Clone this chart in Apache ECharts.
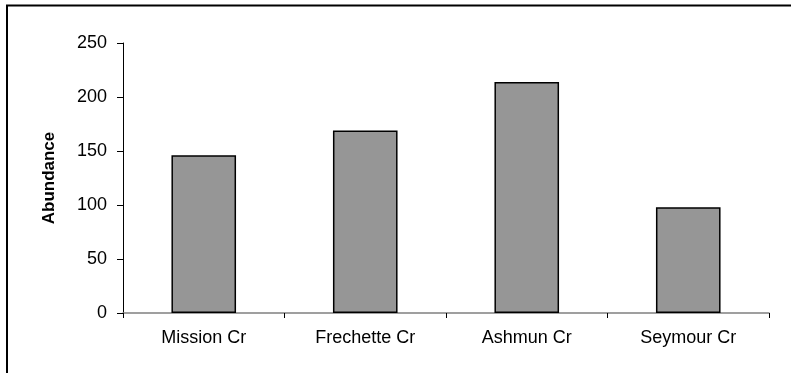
<!DOCTYPE html>
<html>
<head>
<meta charset="utf-8">
<script src="https://cdn.jsdelivr.net/npm/echarts@6/dist/echarts.min.js"></script>
<style>
html,body{margin:0;padding:0;background:#fff;}
#chart{width:791px;height:373px;}
</style>
</head>
<body>
<div id="chart"></div>
<script>
const categories = ['Mission Cr', 'Frechette Cr', 'Ashmun Cr', 'Seymour Cr'];
const abundance = [146, 169, 214, 98];
const yTicks = { min: 0, max: 250, interval: 50 };
const yTitle = 'Abundance';

const chart = echarts.init(document.getElementById('chart'), null, { renderer: 'canvas' });
const font = '"Liberation Sans", Arial, sans-serif';
chart.setOption({
  animation: false,
  backgroundColor: '#fff',
  graphic: [{
    type: 'rect',
    shape: { x: 7, y: 5.5, width: 900, height: 500 },
    style: { fill: 'none', stroke: '#000', lineWidth: 2 },
    silent: true
  }],
  grid: { left: 123, top: 43, width: 646, height: 270, containLabel: false },
  xAxis: {
    type: 'category',
    data: categories,
    axisLine: { lineStyle: { color: '#808080', width: 1.5 } },
    axisTick: { show: true, length: 5, lineStyle: { color: '#000', width: 1 } },
    axisLabel: { color: '#000', fontFamily: font, fontSize: 18, margin: 16 },
    splitLine: { show: false }
  },
  yAxis: {
    type: 'value',
    min: yTicks.min, max: yTicks.max, interval: yTicks.interval,
    name: yTitle,
    nameLocation: 'middle',
    nameGap: 65,
    nameTextStyle: { color: '#000', fontFamily: font, fontSize: 17, fontWeight: 'bold' },
    axisLine: { show: true, lineStyle: { color: '#000', width: 1 } },
    axisTick: { show: true, length: 6, lineStyle: { color: '#000', width: 1 } },
    axisLabel: { color: '#000', fontFamily: font, fontSize: 18, margin: 16 },
    splitLine: { show: false }
  },
  series: [{
    type: 'bar',
    data: abundance,
    barCategoryGap: '60%',
    itemStyle: { color: '#969696', borderColor: '#000', borderWidth: 1.5 }
  }]
});
</script>
</body>
</html>
